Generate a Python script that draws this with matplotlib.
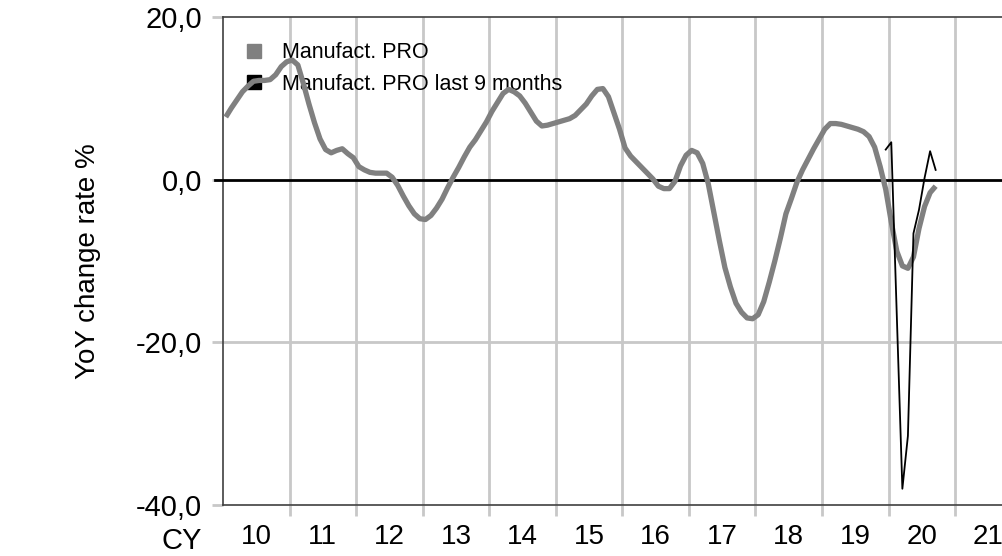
import matplotlib
matplotlib.use("Agg")
import matplotlib.pyplot as plt
from matplotlib.lines import Line2D
import numpy as np

plt.rcParams['font.family'] = ['Liberation Sans', 'DejaVu Sans']

# ---- data ----
start_year = 2010  # first month: Jan 2010, monthly
pro_values = [
    7.7, 8.8, 9.8, 10.8, 11.5, 12.1, 12.2, 12.2, 12.3, 12.9, 13.9, 14.5,      # 2010
    14.7, 14.1, 11.8, 9.3, 7.0, 5.0, 3.7, 3.3, 3.6, 3.8, 3.2, 2.7,            # 2011
    1.6, 1.2, 0.9, 0.8, 0.8, 0.8, 0.3, -0.7, -2.0, -3.2, -4.2, -4.8,          # 2012
    -4.9, -4.4, -3.5, -2.4, -1.0, 0.3, 1.5, 2.8, 4.0, 4.9, 6.0, 7.1,          # 2013
    8.4, 9.5, 10.6, 11.1, 10.8, 10.3, 9.4, 8.3, 7.2, 6.6, 6.7, 6.9,           # 2014
    7.1, 7.3, 7.5, 7.9, 8.6, 9.3, 10.3, 11.1, 11.2, 10.2, 8.2, 6.2,           # 2015
    3.9, 2.9, 2.2, 1.5, 0.8, 0.1, -0.8, -1.1, -1.1, -0.2, 1.7, 3.0,           # 2016
    3.6, 3.3, 2.0, -0.5, -4.0, -7.5, -10.8, -13.2, -15.2, -16.3, -17.0, -17.1,  # 2017
    -16.6, -15.0, -12.6, -10.0, -7.2, -4.2, -2.3, -0.3, 1.2, 2.5, 3.8, 5.0,   # 2018
    6.2, 6.9, 6.9, 6.8, 6.6, 6.4, 6.2, 5.9, 5.3, 4.0, 1.6, -1.2,              # 2019
    -5.2, -8.8, -10.6, -10.9, -9.5, -6.0, -3.3, -1.6, -0.8,                   # 2020
]
last9_start_index = 119  # Dec 2019
last9_values = [3.7, 4.6, -16.8, -38.0, -31.5, -6.6, -3.7, 0.2, 3.5, 1.2]

series_labels = ["Manufact. PRO", "Manufact. PRO last 9 months"]
year_labels = ["10", "11", "12", "13", "14", "15", "16", "17", "18", "19", "20", "21"]
y_ticks = [-40, -20, 0, 20]
y_tick_labels = ["-40,0", "-20,0", "0,0", "20,0"]
y_title = "YoY change rate %"
x_title = "CY"

# ---- figure ----
W, H = 1002, 556
fig = plt.figure(figsize=(W / 100, H / 100), dpi=100)
ax_left, ax_right, ax_top, ax_bottom = 223, 1002, 17, 505
ax = fig.add_axes([ax_left / W, 1 - ax_bottom / H, (ax_right - ax_left) / W, (ax_bottom - ax_top) / H])

px_per_year = 66.55
x_max = start_year + (ax_right - ax_left) / px_per_year

x_pro = start_year + (np.arange(len(pro_values)) + 0.5) / 12.0
x_last = start_year + (np.arange(last9_start_index, last9_start_index + len(last9_values)) + 0.5) / 12.0

grid_col = '#c8c8c8'
gray = '#808080'

ax.plot(x_pro, pro_values, color=gray, lw=3.8, solid_capstyle='butt',
        solid_joinstyle='round', zorder=4)
ax.plot(x_last, last9_values, color='black', lw=1.3, zorder=5)

ax.set_xlim(start_year, x_max)
ax.set_ylim(-40, 20)

# vertical grid at year boundaries
years = np.arange(start_year + 1, start_year + len(year_labels))
ax.set_xticks(years)
ax.set_xticklabels([])
ax.set_xticks(start_year + np.arange(len(year_labels)) + 0.5, minor=True)
ax.set_xticklabels(year_labels, minor=True, fontsize=20)
ax.tick_params(axis='x', which='major', length=8, width=2, color=grid_col)
ax.tick_params(axis='x', which='minor', length=0, pad=14)
ax.grid(axis='x', which='major', color=grid_col, lw=2)
ax.set_axisbelow(True)

# y axis
ax.set_yticks(y_ticks)
ax.set_yticklabels(y_tick_labels, fontsize=21)
ax.tick_params(axis='y', length=8, width=2, color=grid_col, pad=7)
ax.axhline(-20, color=grid_col, lw=2, zorder=1)
ax.axhline(0, color='black', lw=2, zorder=3, xmin=-8 / (ax_right - ax_left), clip_on=False)

for s in ['left', 'top', 'bottom']:
    ax.spines[s].set_color('#404040')
    ax.spines[s].set_linewidth(1.2)
ax.spines['right'].set_visible(False)

# legend
handles = [Line2D([], [], marker='s', ls='none', color=gray, markersize=9.6),
           Line2D([], [], marker='s', ls='none', color='black', markersize=9.6)]
leg = ax.legend(handles, series_labels, loc='upper left', bbox_to_anchor=(0.01, 0.975),
                frameon=False, fontsize=15.5, handlelength=1.0, handletextpad=0.8,
                labelspacing=0.5, borderaxespad=0.2)
leg.set_zorder(2)

# titles
fig.text(88 / W, 1 - 261 / H, y_title, rotation=90, ha='center', va='center', fontsize=20)
fig.text(202 / W, 1 - 541 / H, x_title, ha='right', va='center', fontsize=21)

fig.savefig('out.png', dpi=100)
